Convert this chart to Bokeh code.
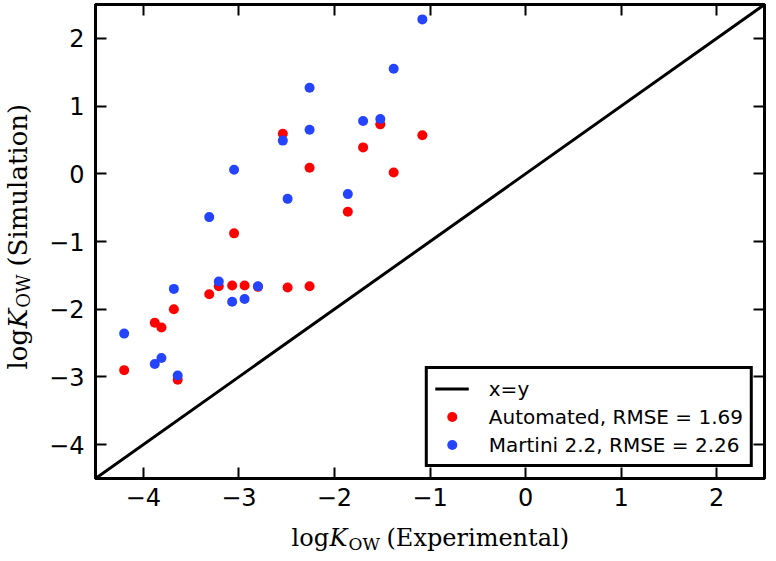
import math
from bokeh.plotting import figure
from bokeh.layouts import row, column
from bokeh.models import (LinearAxis, FixedTicker, Legend, LegendItem, Label, Range1d,
                          CustomLabelingPolicy)
from bokeh.embed import file_html
from bokeh.resources import INLINE

# ---- data ----
exp_automated = [-1.08, -1.52, -1.70, -2.54, -2.26, -1.38, -1.86, -3.05, -3.21, -3.31,
                 -3.07, -2.94, -2.49, -2.26, -3.68, -3.88, -3.81, -4.20, -3.64, -2.80]
sim_automated = [0.57, 0.73, 0.39, 0.59, 0.09, 0.02, -0.56, -0.88, -1.66, -1.78,
                 -1.65, -1.65, -1.68, -1.66, -2.00, -2.20, -2.27, -2.90, -3.04, -1.67]

exp_martini = [-1.08, -1.38, -2.26, -1.70, -1.52, -2.26, -2.54, -3.05, -2.49, -1.86,
               -3.31, -3.21, -2.80, -3.68, -3.07, -2.94, -4.20, -3.88, -3.81, -3.64]
sim_martini = [2.28, 1.55, 1.27, 0.78, 0.81, 0.65, 0.49, 0.06, -0.37, -0.30,
               -0.64, -1.59, -1.66, -1.70, -1.89, -1.85, -2.36, -2.81, -2.72, -2.98]

identity_line = [-4.5, 2.5]
axis_range = (-4.5, 2.5)
ticks = [-4, -3, -2, -1, 0, 1, 2]
tick_labels = ["\u22124", "\u22123", "\u22122", "\u22121", "0", "1", "2"]
legend_labels = ["x=y", "Automated, RMSE = 1.69", "Martini 2.2, RMSE = 2.26"]
x_title = ["log", "K", "OW", "(Experimental)"]
y_title = ["log", "K", "OW", "(Simulation)"]

RED = "#ff0000"
BLUE = "#2444ff"

TOTAL_W, TOTAL_H = 768, 553
YT_W = 40           # strip for the rotated y title
XT_H = 35           # strip for the x title
P_W = TOTAL_W - YT_W
P_H = TOTAL_H - XT_H

p = figure(width=P_W, height=P_H,
           x_range=Range1d(*axis_range), y_range=Range1d(*axis_range),
           output_backend="svg", toolbar_location=None,
           min_border_left=95 - YT_W, min_border_right=2, min_border_top=1,
           min_border_bottom=P_H - 478)

p.background_fill_color = "white"
p.border_fill_color = "white"
p.outline_line_color = "black"
p.outline_line_width = 3
p.xgrid.grid_line_color = None
p.ygrid.grid_line_color = None

overrides = {t: l for t, l in zip(ticks, tick_labels)}
no_labels = CustomLabelingPolicy(code="return new indices.constructor(indices.size)")

def style_axis(ax, show_labels):
    ax.ticker = FixedTicker(ticks=ticks)
    ax.axis_line_color = "black"
    ax.axis_line_width = 3
    ax.major_tick_in = 11
    ax.major_tick_out = 0
    ax.major_tick_line_width = 2
    ax.major_tick_line_color = "black"
    ax.minor_tick_line_color = None
    ax.axis_label_standoff = 0
    if show_labels:
        ax.major_label_overrides = overrides
        ax.major_label_text_font = "DejaVu Sans"
        ax.major_label_text_font_size = "24px"
        ax.major_label_text_color = "black"
    else:
        # ticks only: the mirrored axes draw no labels at all
        ax.major_label_policy = no_labels
        ax.major_label_text_font_size = "1px"
        ax.major_label_standoff = 0
        ax.axis_label = None

for ax in p.xaxis:
    style_axis(ax, True)
    ax.major_label_standoff = 9
for ax in p.yaxis:
    style_axis(ax, True)
    ax.major_label_standoff = 11

top_axis = LinearAxis()
style_axis(top_axis, False)
p.add_layout(top_axis, "above")
right_axis = LinearAxis()
style_axis(right_axis, False)
p.add_layout(right_axis, "right")

r_line = p.line(identity_line, identity_line, line_color="black", line_width=3)
r_auto = p.scatter(exp_automated, sim_automated, size=10, fill_color=RED, line_color=None)
r_mart = p.scatter(exp_martini, sim_martini, size=10, fill_color=BLUE, line_color=None)

legend = Legend(items=[LegendItem(label=legend_labels[0], renderers=[r_line]),
                       LegendItem(label=legend_labels[1], renderers=[r_auto]),
                       LegendItem(label=legend_labels[2], renderers=[r_mart])],
                location="bottom_right")
legend.label_text_font = "DejaVu Sans"
legend.label_text_font_size = "20px"
legend.label_text_color = "black"
legend.border_line_color = "black"
legend.border_line_alpha = 1
legend.border_line_width = 3
legend.background_fill_color = "white"
legend.background_fill_alpha = 1
legend.padding = 7
legend.spacing = 3
legend.margin = 11
legend.glyph_width = 34
legend.glyph_height = 25
legend.label_height = 25
legend.label_standoff = 20
p.add_layout(legend)

# ---- title strips: log K_OW (...) composed of real text pieces ----
SERIF = "DejaVu Serif"

def strip(w, h):
    f = figure(width=w, height=h, x_range=Range1d(0, w), y_range=Range1d(0, h),
               output_backend="svg", toolbar_location=None,
               x_axis_location=None, y_axis_location=None,
               min_border_left=0, min_border_right=0, min_border_top=0, min_border_bottom=0)
    f.xgrid.grid_line_color = None
    f.ygrid.grid_line_color = None
    f.outline_line_color = None
    f.background_fill_color = "white"
    f.border_fill_color = "white"
    return f

def pieces(words, fs):
    s = fs / 24.0
    sub = round(17 * s)
    return [(words[0], fs, "normal", 0.0, 0),
            (words[1], fs, "italic", 38 * s, 0),
            (words[2], sub, "normal", 57 * s, round(6 * s)),
            (words[3], fs, "normal", 95 * s, 0)]

xfig = strip(TOTAL_W, XT_H)
x_start = 291
for text, size, style, off, drop in pieces(x_title, 24):
    xfig.add_layout(Label(x=x_start + off, y=16 - drop, x_units="screen", y_units="screen",
                          text=text, text_font=SERIF, text_font_size=f"{size}px",
                          text_font_style=style, text_color="black",
                          text_align="left", text_baseline="alphabetic"))

yfig = strip(YT_W, P_H)
Y_FS = 26
y_start = 109
for text, size, style, off, drop in pieces(y_title, Y_FS):
    yfig.add_layout(Label(x=17 + drop, y=y_start + off, x_units="screen", y_units="screen",
                          text=text, text_font=SERIF, text_font_size=f"{size}px",
                          text_font_style=style, text_color="black", angle=math.pi / 2,
                          text_align="left", text_baseline="alphabetic"))

layout = column(row(yfig, p, spacing=0), xfig, spacing=0)

open("out.html", "w").write(file_html(layout, INLINE))
